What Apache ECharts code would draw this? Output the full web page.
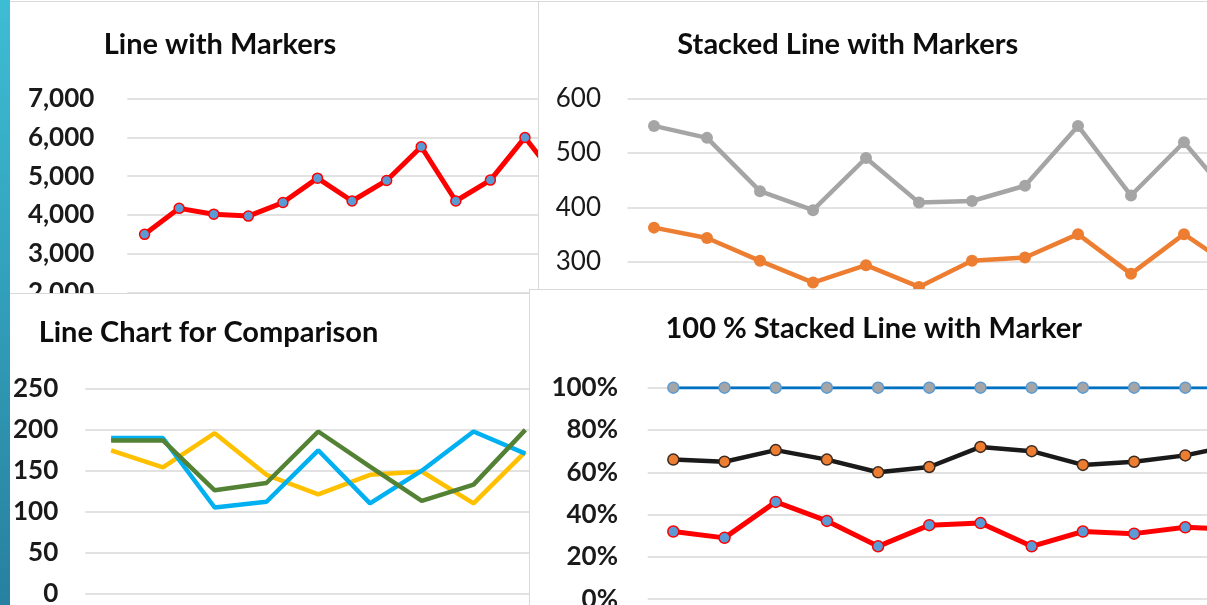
<!DOCTYPE html>
<html>
<head>
<meta charset="utf-8">
<script src="https://cdn.jsdelivr.net/npm/echarts/dist/echarts.min.js"></script>
<style>
    html, body { margin: 0; padding: 0; width: 1207px; height: 605px; overflow: hidden; background: #fff; }
    #strip { position: absolute; left: 0; top: 0; width: 10px; height: 605px; background: linear-gradient(#3dbdd4, #27809f); }
    .panel { position: absolute; background: #fff; overflow: hidden; box-sizing: border-box; }
    #panelA { left: 10px; top: 1px; width: 600px; height: 380px; border-top: 1px solid #d9d9d9; z-index: 1; }
    #panelB { left: 538px; top: 1px; width: 700px; height: 380px; border-top: 1px solid #d9d9d9; border-left: 1px solid #d9d9d9; z-index: 2; }
    #panelC { left: 10px; top: 293px; width: 520px; height: 312px; border-top: 1px solid #d9d9d9; border-right: 1px solid #d9d9d9; z-index: 3; }
    #panelD { left: 529px; top: 289px; width: 700px; height: 316px; border-top: 1px solid #d9d9d9; border-left: 1px solid #d9d9d9; z-index: 4; }
    .chart { position: absolute; left: 0; top: 0; width: 820px; height: 420px; }
</style>
</head>
<body>
<div id="strip"></div>
<div class="panel" id="panelA"><div class="chart" id="lineMarkers"></div></div>
<div class="panel" id="panelB"><div class="chart" id="stackedMarkers"></div></div>
<div class="panel" id="panelC"><div class="chart" id="comparison"></div></div>
<div class="panel" id="panelD"><div class="chart" id="percentStacked"></div></div>

<script>
    // values (categories are not labelled there)
    const lineMarkerCats = ['1', '2', '3', '4', '5', '6', '7', '8', '9', '10', '11', '12', '13']
    const lineMarkerValues = [3500, 4170, 4020, 3970, 4320, 4950, 4360, 4890, 5760, 4360, 4900, 6000, 4850]

    const stackedCats = ['1', '2', '3', '4', '5', '6', '7', '8', '9', '10', '11', '12']
    const stackedGray = [550, 528, 430, 395, 491, 409, 412, 440, 550, 422, 520, 405]
    const stackedOrange = [363, 344, 302, 262, 294, 254, 302, 308, 351, 278, 351, 285]

    const compareCats = ['1', '2', '3', '4', '5', '6', '7', '8', '9', '10']
    const compareBlue = [190, 190, 105, 112, 175, 110, 150, 198, 171]
    const compareYellow = [175, 154, 196, 145, 121, 145, 149, 110, 173]
    const compareGreen = [187, 187, 126, 135, 198, 155, 113, 133, 200]

    const percentCats = ['1', '2', '3', '4', '5', '6', '7', '8', '9', '10', '11', '12']
    const percentTop = [100, 100, 100, 100, 100, 100, 100, 100, 100, 100, 100, 100]
    const percentMid = [66, 65, 70.5, 66, 60, 62.5, 72, 70, 63.5, 65, 68, 73]
    const percentLow = [32, 29, 46, 37, 25, 35, 36, 25, 32, 31, 34, 33]

    const FONT = 'Lato, "Open Sans", sans-serif'

    function titleText(text, x, y) {
        return {
            type: 'text',
            x: x,
            y: y,
            silent: true,
            style: {
                text: text,
                fill: '#0d0d0d',
                font: 'bold 29px ' + FONT,
                align: 'center',
                verticalAlign: 'middle',
                textAlign: 'center',
                textVerticalAlign: 'middle'
            }
        }
    }

    function hiddenCategory(cats) {
        return {
            type: 'category',
            data: cats,
            boundaryGap: true,
            axisLine: { show: false },
            axisTick: { show: false },
            axisLabel: { show: false },
            splitLine: { show: false }
        }
    }

    function valueAxis(min, max, interval, margin, weight, formatter) {
        return {
            type: 'value',
            min: min,
            max: max,
            interval: interval,
            axisLine: { show: false },
            axisTick: { show: false },
            axisLabel: {
                margin: margin,
                fontFamily: FONT,
                fontSize: 26,
                fontWeight: weight,
                color: '#1a1a1a',
                formatter: formatter
            },
            splitLine: { lineStyle: { color: '#d9d9d9', width: 1.5 } }
        }
    }

    function lineSeries(data, color, width, marker) {
        let s = {
            type: 'line',
            data: data,
            silent: true,
            lineStyle: { color: color, width: width },
            itemStyle: { color: color },
            symbol: 'none'
        }
        if (marker) {
            s.symbol = 'circle'
            s.showAllSymbol = true
            s.symbolSize = marker.size
            s.itemStyle = { color: marker.fill, borderColor: marker.border, borderWidth: marker.borderWidth }
        }
        return s
    }

    // Line with Markers
    let chartA = echarts.init(document.getElementById('lineMarkers'))
    chartA.setOption({
        animation: false,
        graphic: [titleText('Line with Markers', 210, 43)],
        grid: { left: 117.3, top: 96.7, width: 13 * 34.58, height: 271.25 },
        xAxis: hiddenCategory(lineMarkerCats),
        yAxis: valueAxis(0, 7000, 1000, 33, 'bold'),
        series: [
            lineSeries(lineMarkerValues, '#ff0000', 5, { size: 10, fill: '#5b9bd5', border: '#ff0000', borderWidth: 1.5 })
        ]
    })

    // Stacked Line with Markers
    let chartB = echarts.init(document.getElementById('stackedMarkers'))
    chartB.setOption({
        animation: false,
        graphic: [titleText('Stacked Line with Markers', 308.8, 42.3)],
        grid: { left: 88.5, top: 96.7, width: 12 * 53, height: 217.6 },
        xAxis: hiddenCategory(stackedCats),
        yAxis: valueAxis(200, 600, 100, 26.5, 'normal'),
        series: [
            lineSeries(stackedOrange, '#ed7d31', 4.5, { size: 12, fill: '#ed7d31', border: '#ed7d31', borderWidth: 0 }),
            lineSeries(stackedGray, '#a5a5a5', 4.5, { size: 12, fill: '#a5a5a5', border: '#a5a5a5', borderWidth: 0 })
        ]
    })

    // Line Chart for Comparison
    let chartC = echarts.init(document.getElementById('comparison'))
    chartC.setOption({
        animation: false,
        graphic: [titleText('Line Chart for Comparison', 198.5, 38.7)],
        grid: { left: 70, top: 95, width: 10 * 52.3, height: 204.3 },
        xAxis: hiddenCategory(compareCats),
        yAxis: valueAxis(0, 250, 50, 27, 'bold'),
        series: [
            lineSeries(compareYellow, '#ffc000', 4.5),
            lineSeries(compareBlue, '#00b0f0', 4.5),
            lineSeries(compareGreen, '#548235', 4.5)
        ]
    })

    // 100 % Stacked Line with Marker
    let chartD = echarts.init(document.getElementById('percentStacked'))
    chartD.setOption({
        animation: false,
        graphic: [titleText('100 % Stacked Line with Marker', 343.8, 38.7)],
        grid: { left: 117.7, top: 97.7, width: 12 * 51.2, height: 211.5 },
        xAxis: hiddenCategory(percentCats),
        yAxis: valueAxis(0, 100, 20, 29.7, 'bold', '{value}%'),
        series: [
            lineSeries(percentLow, '#ff0000', 5, { size: 11, fill: '#5b9bd5', border: '#ff0000', borderWidth: 1.5 }),
            lineSeries(percentMid, '#1a1a1a', 4.5, { size: 11, fill: '#ed7d31', border: '#3a2a20', borderWidth: 1.5 }),
            lineSeries(percentTop, '#0070c0', 3, { size: 11, fill: '#a5a5a5', border: '#5b9bd5', borderWidth: 1.5 })
        ]
    })
</script>
</body>
</html>
